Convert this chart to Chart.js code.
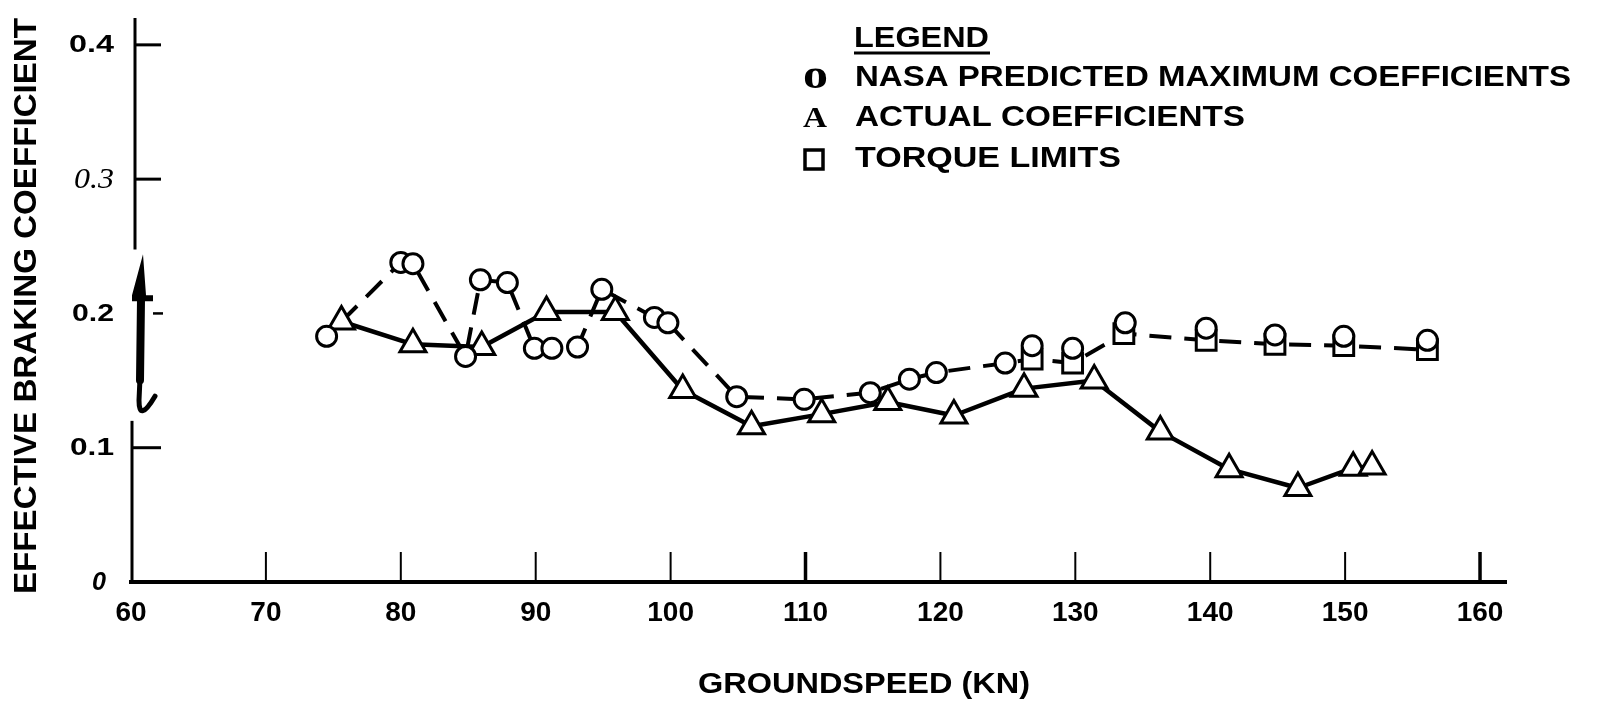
<!DOCTYPE html>
<html lang="en">
<head>
<meta charset="UTF-8">
<title>Effective braking coefficient vs groundspeed</title>
<script src="https://cdn.jsdelivr.net/npm/chart.js"></script>
<style>
  html, body { margin: 0; padding: 0; background: #fff; }
  #wrap { width: 1610px; height: 704px; }
</style>
</head>
<body>
<div id="wrap"><canvas id="chart" width="1610" height="704"></canvas></div>

<script>
// ======= Values =======
const xTicks = [60, 70, 80, 90, 100, 110, 120, 130, 140, 150, 160];
const yTicks = [0, 0.1, 0.2, 0.3, 0.4];
const yTickLabels = ['0', '0.1', '0.2', '0.3', '0.4'];

// NASA predicted maximum coefficients (circles)
const predictedSpeed = [74.5, 80.0, 80.9, 84.8, 85.9, 87.9, 89.9, 91.2, 93.1, 94.9, 98.8, 99.8,
                        104.9, 109.9, 114.8, 117.7, 119.7, 124.8, 126.8, 129.8, 133.7, 139.7, 144.8, 149.9, 156.1];
const predictedCoef  = [0.183, 0.238, 0.237, 0.168, 0.225, 0.223, 0.174, 0.174, 0.175, 0.218, 0.197, 0.193,
                        0.138, 0.136, 0.141, 0.151, 0.156, 0.163, 0.176, 0.174, 0.193, 0.189, 0.184, 0.183, 0.180];

// Actual coefficients (triangles)
const actualSpeed = [75.6, 80.9, 86.0, 90.8, 95.9, 100.9, 106.0, 111.2, 116.1, 121.0, 126.2, 131.4,
                     136.3, 141.4, 146.5, 150.6, 152.0];
const actualCoef  = [0.194, 0.177, 0.175, 0.201, 0.201, 0.143, 0.116, 0.125, 0.134, 0.124, 0.144, 0.150,
                     0.112, 0.084, 0.070, 0.085, 0.086];

// Torque limits (squares)
const torqueSpeed = [126.8, 129.8, 133.6, 139.7, 144.8, 149.9, 156.1];
const torqueCoef  = [0.166, 0.163, 0.185, 0.180, 0.177, 0.176, 0.173];

const legendTitle = 'LEGEND';
const legendLabels = ['NASA PREDICTED MAXIMUM COEFFICIENTS', 'ACTUAL COEFFICIENTS', 'TORQUE LIMITS'];
const xTitle = 'GROUNDSPEED (KN)';
const yTitle = 'EFFECTIVE BRAKING COEFFICIENT';

// ======= Series =======
const toPoints = (xs, ys) => xs.map((x, i) => ({ x: x, y: ys[i] }));
const predicted = toPoints(predictedSpeed, predictedCoef);
const actual = toPoints(actualSpeed, actualCoef);
const torque = toPoints(torqueSpeed, torqueCoef);

// dashed envelope: starts at the first actual point, runs through the
// predicted circles, then follows the torque limits
const envelope = [actual[0]]
    .concat(predicted.filter(p => p.x > actual[0].x && p.x < torque[0].x))
    .concat(torque);

// ======= Drawing helpers =======
const SANS = '"Liberation Sans", Arial, sans-serif';
const SERIF = '"Liberation Serif", "Times New Roman", serif';

function drawText(ctx, text, x, y, font, opts) {
    opts = opts || {};
    ctx.font = font;
    const w = ctx.measureText(text).width;
    const sx = opts.width ? opts.width / w : (opts.stretch || 1);
    const drawn = w * sx;
    const left = opts.align === 'right' ? x - drawn : opts.align === 'center' ? x - drawn / 2 : x;
    ctx.save();
    ctx.translate(left, y);
    ctx.scale(sx, 1);
    ctx.textAlign = 'left';
    ctx.textBaseline = 'middle';
    ctx.fillStyle = '#000';
    ctx.fillText(text, 0, 0);
    ctx.restore();
}

function seg(ctx, x1, y1, x2, y2) {
    ctx.beginPath();
    ctx.moveTo(x1, y1);
    ctx.lineTo(x2, y2);
    ctx.stroke();
}

// axes, ticks and texts of the old plate
const figurePlugin = {
    id: 'figure',
    beforeDatasetsDraw(chart) {
        const { ctx, chartArea: a, scales: { x, y } } = chart;
        ctx.save();
        ctx.strokeStyle = '#000';
        ctx.fillStyle = '#000';

        // x axis
        ctx.lineWidth = 4;
        seg(ctx, a.left - 2, a.bottom, a.right, a.bottom);

        // x ticks point up into the plot
        xTicks.forEach(v => {
            if (v === x.min) return;
            const px = x.getPixelForValue(v);
            ctx.lineWidth = (v === 110 || v === 160) ? 3.5 : 2;
            seg(ctx, px, a.bottom, px, a.bottom - 30);
        });

        // y axis, broken around the arrow
        ctx.lineWidth = 3;
        seg(ctx, a.left + 4, a.top, a.left + 4, y.getPixelForValue(0.2476));
        seg(ctx, a.left + 1, y.getPixelForValue(0.12), a.left + 1, a.bottom);

        // y ticks point right
        yTicks.forEach(v => {
            if (v === 0) return;
            const py = y.getPixelForValue(v);
            if (v === 0.2) {
                ctx.lineWidth = 2.5;
                seg(ctx, a.left + 22, py, a.left + 32, py);
            } else {
                ctx.lineWidth = 3;
                seg(ctx, a.left + (v > 0.2 ? 4 : 1), py, a.left + 30, py);
            }
        });

        // hand drawn arrow on the axis break
        const ax = a.left + 12;
        const tip = y.getPixelForValue(0.244);
        const bar = tip + 41;
        const end = y.getPixelForValue(0.1205);
        ctx.beginPath();
        ctx.moveTo(ax, tip);
        ctx.lineTo(ax + 3, bar);
        ctx.lineTo(ax + 10, bar);
        ctx.lineTo(ax + 10, bar + 6);
        ctx.lineTo(ax - 11, bar + 6);
        ctx.lineTo(ax - 11, bar);
        ctx.closePath();
        ctx.fill();
        ctx.lineCap = 'round';
        ctx.lineWidth = 8;
        seg(ctx, ax - 2, bar + 4, ax - 3, end - 40);
        ctx.lineWidth = 5;
        ctx.beginPath();
        ctx.moveTo(ax - 3, end - 42);
        ctx.lineTo(ax - 4, end - 20);
        ctx.quadraticCurveTo(ax - 4, end + 3, ax + 12, end - 24);
        ctx.stroke();
        ctx.restore();
    },
    afterDraw(chart) {
        const { ctx, chartArea: a, scales: { x, y } } = chart;

        // y tick labels, mixed faces as on the plate
        const yFaces = {
            '0':   { font: 'italic bold 25px ' + SANS, width: 14 },
            '0.1': { font: 'bold 24px ' + SANS, width: 44 },
            '0.2': { font: 'bold 24px ' + SANS, width: 42 },
            '0.3': { font: 'italic 30px ' + SERIF, width: 40 },
            '0.4': { font: 'bold 24px ' + SANS, width: 45 }
        };
        yTicks.forEach((v, i) => {
            const lbl = yTickLabels[i];
            const f = yFaces[lbl];
            const right = v === 0 ? a.left - 25 : a.left - 17;
            drawText(ctx, lbl, right, y.getPixelForValue(v) + 1, f.font, { align: 'right', width: f.width });
        });

        // x tick labels
        xTicks.forEach(v => {
            drawText(ctx, String(v), x.getPixelForValue(v), a.bottom + 31, 'bold 28px ' + SANS, { align: 'center', stretch: 1.0 });
        });

        // axis titles
        drawText(ctx, xTitle, 864, 685, 'bold 29px ' + SANS, { align: 'center', width: 332 });
        ctx.save();
        ctx.translate(27, 306);
        ctx.rotate(-Math.PI / 2);
        drawText(ctx, yTitle, 0, 0, 'bold 32px ' + SANS, { align: 'center', width: 576 });
        ctx.restore();

        // legend
        drawText(ctx, legendTitle, 854, 39, 'bold 29px ' + SANS, { width: 135 });
        ctx.save();
        ctx.strokeStyle = '#000';
        ctx.lineWidth = 3;
        seg(ctx, 854, 53, 990, 53);
        ctx.restore();

        const rows = [78, 118, 159];
        const widths = [716, 390, 266];
        legendLabels.forEach((lbl, i) => {
            drawText(ctx, lbl, 855, rows[i], 'bold 29px ' + SANS, { width: widths[i] });
        });
        drawText(ctx, 'o', 803, rows[0], 'bold 40px ' + SERIF, { width: 25 });
        drawText(ctx, 'A', 803, rows[1] + 1, 'bold 30px ' + SERIF, { width: 24 });
        ctx.save();
        ctx.strokeStyle = '#000';
        ctx.lineWidth = 3.5;
        ctx.strokeRect(805, rows[2] - 9, 18, 19);
        ctx.restore();
    }
};

// ======= Chart =======
new Chart(document.getElementById('chart'), {
    type: 'scatter',
    data: {
        datasets: [
            {
                label: 'envelope',
                data: envelope,
                showLine: true,
                borderColor: '#000',
                borderWidth: 4,
                borderDash: [22, 13],
                pointRadius: 0,
                order: 4
            },
            {
                label: legendLabels[1],
                data: actual,
                showLine: true,
                borderColor: '#000',
                borderWidth: 4.5,
                borderJoinStyle: 'round',
                pointStyle: 'triangle',
                pointRadius: 15,
                pointBorderWidth: 3,
                pointBorderColor: '#000',
                pointBackgroundColor: '#fff',
                order: 3
            },
            {
                label: legendLabels[2],
                data: torque,
                pointStyle: 'rect',
                pointRadius: 14,
                pointBorderWidth: 3,
                pointBorderColor: '#000',
                pointBackgroundColor: '#fff',
                order: 2
            },
            {
                label: legendLabels[0],
                data: predicted,
                pointStyle: 'circle',
                pointRadius: 10,
                pointBorderWidth: 3,
                pointBorderColor: '#000',
                pointBackgroundColor: '#fff',
                order: 1
            }
        ]
    },
    options: {
        responsive: false,
        animation: false,
        events: [],
        layout: { padding: { left: 131, right: 103, top: 7, bottom: 122 } },
        scales: {
            x: { type: 'linear', display: false, min: 60, max: 162 },
            y: { display: false, min: 0, max: 0.42 }
        },
        plugins: {
            legend: { display: false },
            tooltip: { enabled: false }
        }
    },
    plugins: [figurePlugin]
});
</script>
</body>
</html>
